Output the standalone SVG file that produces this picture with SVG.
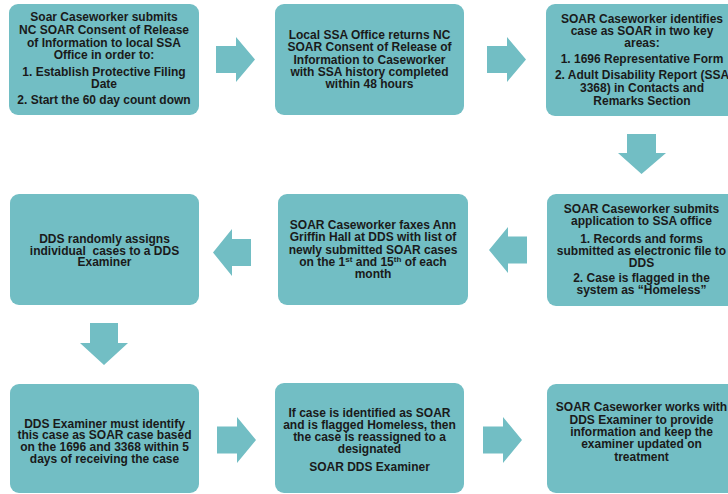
<svg xmlns="http://www.w3.org/2000/svg" width="728" height="494" viewBox="0 0 728 494">
<style>
.box{fill:#72bec4;}
.arr{fill:#72bec4;}
text{font-family:"Liberation Sans",Arial,sans-serif;font-weight:bold;font-size:12px;fill:#1a1a1a;text-anchor:middle;}
.sup{font-size:8px;}
</style>
<rect width="728" height="494" fill="#ffffff"/>
<g id="connectors">
<polygon class="arr" points="216,46 236,46 236,37 255,59.5 236,82 236,73 216,73"/>
<polygon class="arr" points="487,46 507,46 507,37 526,59.5 507,82 507,73 487,73"/>
<polygon class="arr" points="627,134 656,134 656,153 666,153 641.5,174 618,153 627,153"/>
<polygon class="arr" points="527,236.5 508,236.5 508,227 489,250 508,273 508,263.5 527,263.5"/>
<polygon class="arr" points="251,239 232,239 232,229 213,252.5 232,276 232,266 251,266"/>
<polygon class="arr" points="90,323 118,323 118,343 128,343 104,365 80,343 90,343"/>
<polygon class="arr" points="217,426.5 237,426.5 237,417 256,440 237,463 237,453.5 217,453.5"/>
<polygon class="arr" points="483,426.5 503,426.5 503,417 522,440 503,463 503,453.5 483,453.5"/>
</g>
<g id="node1">
<rect class="box" x="9" y="4" width="190" height="111" rx="9"/>
<text x="104" y="21">Soar Caseworker submits</text>
<text x="104" y="34">NC SOAR Consent of Release</text>
<text x="104" y="47">of Information to local SSA</text>
<text x="104" y="59">Office in order to:</text>
<text x="104" y="76">1. Establish Protective Filing</text>
<text x="104" y="88">Date</text>
<text x="104" y="104">2. Start the 60 day count down</text>
</g>
<g id="node2">
<rect class="box" x="275" y="4" width="189" height="111" rx="9"/>
<text x="369.5" y="39">Local SSA Office returns NC</text>
<text x="369.5" y="51">SOAR Consent of Release of</text>
<text x="369.5" y="63.5">Information to Caseworker</text>
<text x="369.5" y="75.5">with SSA history completed</text>
<text x="369.5" y="87.5">within 48 hours</text>
</g>
<g id="node3">
<rect class="box" x="546" y="4" width="192" height="112" rx="9"/>
<text x="642" y="22.5">SOAR Caseworker identifies</text>
<text x="642" y="35">case as SOAR in two key</text>
<text x="642" y="47">areas:</text>
<text x="642" y="62.5">1. 1696 Representative Form</text>
<text x="642" y="79">2. Adult Disability  Report (SSA</text>
<text x="642" y="92">3368) in Contacts and</text>
<text x="642" y="105">Remarks Section</text>
</g>
<g id="node4">
<rect class="box" x="547" y="194" width="191" height="112" rx="9"/>
<text x="641.5" y="213">SOAR Caseworker submits</text>
<text x="641.5" y="225">application to SSA office</text>
<text x="641.5" y="243">1. Records and forms</text>
<text x="641.5" y="255">submitted as electronic file to</text>
<text x="641.5" y="267">DDS</text>
<text x="641.5" y="282">2. Case is flagged in the</text>
<text x="641.5" y="294">system as “Homeless”</text>
</g>
<g id="node5">
<rect class="box" x="278" y="194" width="190" height="111" rx="9"/>
<text x="373" y="229">SOAR Caseworker faxes Ann</text>
<text x="373" y="241">Griffin Hall at DDS with list of</text>
<text x="373" y="253.5">newly submitted SOAR cases</text>
<text x="373" y="265.5">on the 1<tspan class="sup" dy="-4">st</tspan><tspan dy="4"> and 15</tspan><tspan class="sup" dy="-4">th</tspan><tspan dy="4"> of each</tspan></text>
<text x="373" y="277.5">month</text>
</g>
<g id="node6">
<rect class="box" x="10" y="194" width="189" height="111" rx="9"/>
<text x="104.5" y="242.5">DDS randomly assigns</text>
<text x="104.5" y="254.5" xml:space="preserve">individual  cases to a DDS</text>
<text x="104.5" y="266">Examiner</text>
</g>
<g id="node7">
<rect class="box" x="10" y="384" width="189" height="109" rx="9"/>
<text x="104.5" y="427.5">DDS Examiner must identify</text>
<text x="104.5" y="439">this case as SOAR case based</text>
<text x="104.5" y="451">on the 1696 and 3368 within 5</text>
<text x="104.5" y="462.5">days of receiving the case</text>
</g>
<g id="node8">
<rect class="box" x="275" y="383" width="189" height="110" rx="9"/>
<text x="369.5" y="417">If case is identified as SOAR</text>
<text x="369.5" y="429">and is flagged Homeless, then</text>
<text x="369.5" y="441">the case is reassigned to a</text>
<text x="369.5" y="452.5">designated</text>
<text x="369.5" y="471">SOAR DDS Examiner</text>
</g>
<g id="node9">
<rect class="box" x="547" y="384" width="191" height="109" rx="9"/>
<text x="641.5" y="411">SOAR Caseworker works with</text>
<text x="641.5" y="423.5">DDS Examiner to provide</text>
<text x="641.5" y="436">information and keep the</text>
<text x="641.5" y="448">examiner updated on</text>
<text x="641.5" y="461">treatment</text>
</g>
</svg>
